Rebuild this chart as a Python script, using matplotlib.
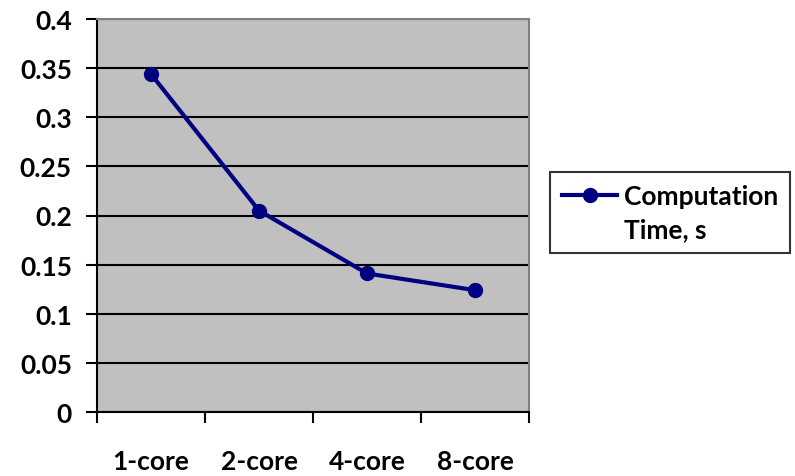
import matplotlib
matplotlib.use("Agg")
import matplotlib.pyplot as plt
from matplotlib.lines import Line2D

# data
categories = ['1-core', '2-core', '4-core', '8-core']
comp_time = [0.344, 0.205, 0.141, 0.124]
series_name = ['Computation', 'Time, s']  # legend label, wrapped over two lines

plt.rcParams['font.family'] = ['Lato', 'DejaVu Sans']
plt.rcParams['font.weight'] = 'bold'

fig = plt.figure(figsize=(7.95, 4.77), dpi=100)
ax = fig.add_axes([97/795, 1-413/477, (529-97)/795, (413-20)/477])
ax.set_facecolor('#C0C0C0')

x = list(range(len(categories)))
line, = ax.plot(x, comp_time, color='#000080', lw=3, marker='o', ms=10, zorder=3)

ax.set_ylim(0, 0.4)
ax.set_yticks([i * 0.05 for i in range(9)])
ax.set_yticklabels(['0', '0.05', '0.1', '0.15', '0.2', '0.25', '0.3', '0.35', '0.4'])
ax.yaxis.grid(True, color='black', lw=1.5)
ax.set_axisbelow(True)

ax.set_xlim(-0.5, len(categories) - 0.5)
ax.set_xticks(x)
ax.set_xticklabels(categories)
ax.set_xticks([i - 0.5 for i in range(len(categories) + 1)], minor=True)
ax.tick_params(axis='x', which='major', length=0, pad=27, labelsize=19)
ax.tick_params(axis='x', which='minor', length=8, width=1.5, direction='out')
ax.tick_params(axis='y', length=8, width=1.5, direction='out', pad=10, labelsize=19)

for side in ['left', 'bottom']:
    ax.spines[side].set_color('black')
    ax.spines[side].set_linewidth(1.5)
for side in ['top', 'right']:
    ax.spines[side].set_color('#808080')
    ax.spines[side].set_linewidth(1.5)

# handle sits beside the first line of the label, like Excel does
blank = Line2D([], [], color='none')
leg = fig.legend(handles=[line, blank], labels=series_name,
                 loc='upper left', bbox_to_anchor=(550/795, 1-173/477),
                 frameon=True, fancybox=False, edgecolor='black', fontsize=19,
                 handlelength=2.1, borderpad=0.45, handletextpad=0.25,
                 labelspacing=0.35, borderaxespad=0)
leg.get_frame().set_linewidth(1.5)

fig.savefig('out.png', dpi=100)
